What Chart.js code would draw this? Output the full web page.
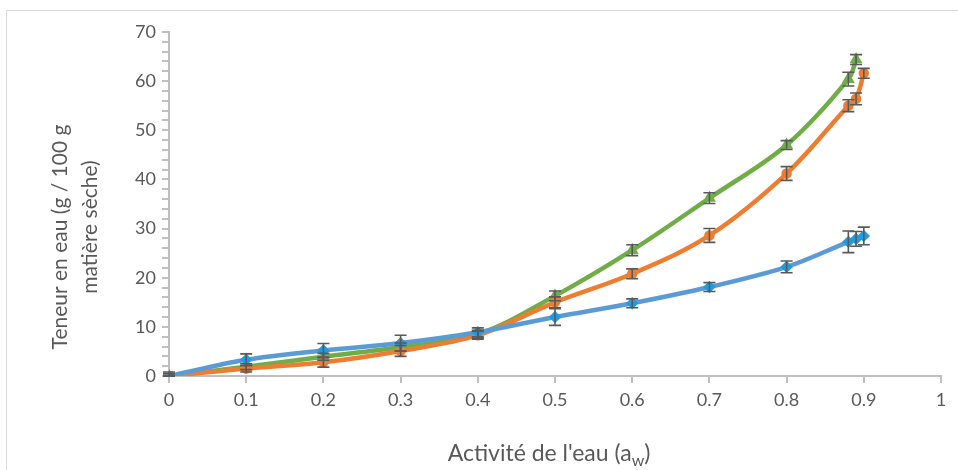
<!DOCTYPE html>
<html>
<head>
<meta charset="utf-8">
<script src="https://cdn.jsdelivr.net/npm/chart.js@4.4.1/dist/chart.umd.min.js"></script>
<style>
  body { margin: 0; background: #fff; }
  #wrap { width: 958px; height: 470px; position: relative; }
</style>
</head>
<body>
<div id="wrap"><canvas id="chart" width="958" height="470"></canvas></div>
<script>
// water activity (x) and water content (y) for the three series
var aw = [0, 0.1, 0.2, 0.3, 0.4, 0.5, 0.6, 0.7, 0.8, 0.88, 0.89, 0.9];
var awGreen = [0, 0.1, 0.2, 0.3, 0.4, 0.5, 0.6, 0.7, 0.8, 0.88, 0.89];

var blue = [0, 3.3, 5.2, 6.7, 8.9, 12.0, 14.8, 18.1, 22.2, 27.3, 27.9, 28.5];
var blueErr = [0.8, 1.2, 1.4, 1.6, 0.9, 1.7, 0.9, 0.9, 1.2, 2.2, 1.5, 1.8];

var orange = [0, 1.5, 2.8, 5.1, 8.3, 15.0, 20.8, 28.6, 41.2, 55.0, 56.4, 61.6];
var orangeErr = [0.5, 0.7, 1.0, 1.1, 0.8, 1.1, 1.0, 1.4, 1.4, 1.2, 1.2, 1.0];

var green = [0, 1.9, 3.9, 5.9, 8.5, 16.3, 25.6, 36.2, 47.0, 60.4, 64.4];
var greenErr = [0.4, 0.6, 0.7, 0.8, 0.8, 1.0, 1.1, 1.1, 0.9, 1.4, 1.0];

var xTitle = ["Activité de l'eau (a", "w", ")"];
var yTitle = ['Teneur en eau (g / 100 g', 'matière sèche)'];

function pts(xs, ys){
    var out = [];
    for(var i = 0; i < xs.length; i++){
        out.push({x: xs[i], y: ys[i]});
    }
    return out;
}

var textColor = '#595959';
var axisColor = '#bfbfbf';
var fontName = 'Lato';

// draws the error bars from the err arrays using the chart scales
var errorBars = {
    id: 'errorBars',
    afterDatasetsDraw: function(chart){
        var ctx = chart.ctx;
        var xs = chart.scales.x, ys = chart.scales.y;
        ctx.save();
        ctx.strokeStyle = '#595959';
        ctx.lineWidth = 1.6;
        chart.data.datasets.forEach(function(ds){
            ds.data.forEach(function(p, i){
                var e = ds.err[i];
                var px = xs.getPixelForValue(p.x);
                var top = ys.getPixelForValue(p.y + e);
                var bot = ys.getPixelForValue(Math.max(p.y - e, 0));
                ctx.beginPath();
                ctx.moveTo(px, top); ctx.lineTo(px, bot);
                ctx.moveTo(px - 6, top); ctx.lineTo(px + 6, top);
                ctx.moveTo(px - 6, bot); ctx.lineTo(px + 6, bot);
                ctx.stroke();
            });
        });
        ctx.restore();
    }
};

// white background, outer border and the axis titles (x one has a subscript)
var frame = {
    id: 'frame',
    beforeDraw: function(chart){
        var ctx = chart.ctx;
        ctx.save();
        ctx.fillStyle = '#fff';
        ctx.fillRect(0, 0, chart.width, chart.height);
        ctx.strokeStyle = '#d9d9d9';
        ctx.lineWidth = 1;
        ctx.strokeRect(6.5, 10.5, 1000, 1000);
        ctx.restore();
    },
    afterDraw: function(chart){
        var ctx = chart.ctx;
        var big = '23px ' + fontName, small = '16px ' + fontName;
        ctx.save();
        ctx.fillStyle = textColor;
        ctx.textBaseline = 'alphabetic';
        ctx.font = big;
        var w1 = ctx.measureText(xTitle[0]).width, w3 = ctx.measureText(xTitle[2]).width;
        ctx.font = small;
        var w2 = ctx.measureText(xTitle[1]).width;
        var x = 549 - (w1 + w2 + w3) / 2, y = 461;
        ctx.font = big;
        ctx.fillText(xTitle[0], x, y);
        ctx.font = small;
        ctx.fillText(xTitle[1], x + w1, y + 5);
        ctx.font = big;
        ctx.fillText(xTitle[2], x + w1 + w2, y);

        // y title, rotated
        ctx.translate(0, 237);
        ctx.rotate(-Math.PI / 2);
        ctx.textAlign = 'center';
        ctx.textBaseline = 'middle';
        ctx.font = '21px ' + fontName;
        ctx.fillText(yTitle[0], 0, 60);
        ctx.fillText(yTitle[1], 10, 90);
        ctx.restore();
    }
};

function series(label, data, err, color, pointColor, style){
    return {
        label: label,
        data: data,
        err: err,
        borderColor: color,
        backgroundColor: pointColor,
        pointBackgroundColor: pointColor,
        pointBorderColor: pointColor,
        pointStyle: style,
        pointRadius: 3,
        borderWidth: 4.5,
        tension: 0.35,
        showLine: true,
        fill: false
    };
}

new Chart(document.getElementById('chart'), {
    type: 'scatter',
    data: {
        datasets: [
            series('s1', pts(aw, blue), blueErr, '#5b9bd5', '#1f9be3', 'rectRot'),
            series('s2', pts(aw, orange), orangeErr, '#ed7d31', '#ed7d31', 'circle'),
            series('s3', pts(awGreen, green), greenErr, '#70ad47', '#70ad47', 'triangle')
        ]
    },
    plugins: [frame, errorBars],
    options: {
        responsive: false,
        animation: false,
        layout: { padding: { left: 0, right: 17, top: 32, bottom: 0 } },
        plugins: {
            legend: { display: false },
            tooltip: { enabled: false }
        },
        scales: {
            x: {
                type: 'linear',
                min: 0,
                max: 1,
                afterFit: function(s){ s.height = 94; },
                border: { color: axisColor, width: 2 },
                grid: { drawOnChartArea: false, drawTicks: true, tickLength: 7, color: axisColor, lineWidth: 2 },
                ticks: {
                    stepSize: 0.1,
                    color: textColor,
                    padding: 6,
                    font: { family: fontName, size: 18 },
                    callback: function(v){ return String(Number(v.toFixed(1))); }
                }
            },
            y: {
                min: 0,
                max: 70,
                afterFit: function(s){ s.width = 169; },
                border: { color: axisColor, width: 2 },
                grid: { drawOnChartArea: false, drawTicks: true, tickLength: 7, color: axisColor, lineWidth: 2 },
                ticks: {
                    stepSize: 2,
                    autoSkip: false,
                    color: textColor,
                    padding: 6,
                    font: { family: fontName, size: 18 },
                    callback: function(v){ return v % 10 === 0 ? String(v) : ''; }
                }
            }
        }
    }
});
</script>
</body>
</html>
